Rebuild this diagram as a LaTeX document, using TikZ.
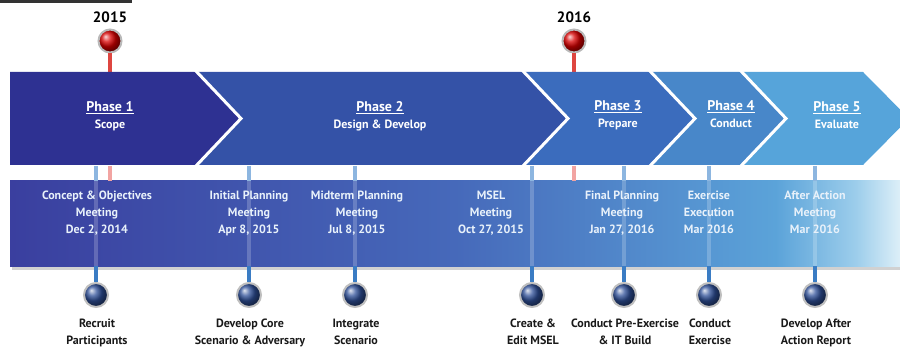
\documentclass[tikz,border=0pt]{standalone}
\usepackage{fontspec}
\setmainfont{PT Sans}
\usetikzlibrary{calc}

% phase colours (dark to light)
\definecolor{phaseA}{HTML}{2E3192}
\definecolor{phaseB}{HTML}{3452A7}
\definecolor{phaseC}{HTML}{3B6CBD}
\definecolor{phaseD}{HTML}{4887C9}
\definecolor{phaseE}{HTML}{56A4DA}
% lower milestone band
\definecolor{bandA}{HTML}{3A3F9F}
\definecolor{bandB}{HTML}{4669BA}
\definecolor{bandC}{HTML}{5BA3D9}
\definecolor{bandD}{HTML}{9CCDEB}
\definecolor{bandE}{HTML}{DDEFF8}
\definecolor{stickblue}{HTML}{3A7CC4}
\definecolor{stickpale}{HTML}{8DB6E0}
\definecolor{stickred}{HTML}{DE4640}
\definecolor{stickpink}{HTML}{F2A4A2}
\definecolor{navyball}{HTML}{2E4F98}
\definecolor{meetingtxt}{HTML}{E8F1FA}
\definecolor{topbar}{HTML}{333333}

% the band shading occupies 25bp..75bp of the declared strip
\pgfdeclarehorizontalshading{bandfade}{100bp}{%
  color(0bp)=(bandA); color(25bp)=(bandA); color(50bp)=(bandB);
  color(68bp)=(bandC); color(72.5bp)=(bandD); color(75bp)=(bandE);
  color(100bp)=(bandE)}

\begin{document}
\begin{tikzpicture}[x=1pt,y=-1pt,
  yearlbl/.style={font=\bfseries\fontsize{15}{16}\selectfont, text=black, inner sep=0pt},
  redpin/.style={circle, minimum size=23pt, inner sep=0pt, ball color=red!85!black,
                 draw=gray!55, line width=2pt},
  bluepin/.style={circle, minimum size=24pt, inner sep=0pt, ball color=navyball,
                 draw=gray!50, line width=2pt},
  phasetxt/.style={font=\bfseries\fontsize{14}{16}\selectfont, text=white,
                 align=center, inner sep=0pt, anchor=north},
  meettxt/.style={font=\bfseries\fontsize{12}{17}\selectfont, text=meetingtxt,
                 align=center, inner sep=0pt, anchor=north},
  tasktxt/.style={font=\bfseries\fontsize{12}{17}\selectfont, text=black!90,
                 align=center, inner sep=0pt, anchor=north},
  sep/.style={draw=white, line width=3pt, line join=miter},
  redstick/.style={draw=stickred, line width=4pt},
  pinkstick/.style={draw=stickpink, line width=4pt},
  palestick/.style={draw=stickpale, line width=4pt},
  inbandstick/.style={draw=white, opacity=0.2, line width=4pt},
  outstick/.style={draw=stickblue, line width=4pt},
]
\useasboundingbox (0,0) rectangle (900,350);

% small dark rule at the top left
\fill[topbar] (0,0) rectangle (132,3);

% year markers
\node[yearlbl] (yr15) at (110,17) {2015};
\node[yearlbl] (yr16) at (574,17) {2016};
\node[redpin] (pin15) at (110,41) {};
\node[redpin] (pin16) at (574,41) {};
\coordinate (bandtop15) at (110,72);
\coordinate (bandtop16) at (574,72);
\draw[redstick] (pin15.south) -- (bandtop15);
\draw[redstick] (pin16.south) -- (bandtop16);

% phase chevrons
\begin{scope}
\clip (0,0) rectangle (900,350);
\fill[phaseE] (740,72) -- (863,72) -- (909,118.5) -- (863,165) -- (740,165) -- (786,118.5) -- cycle;
\fill[phaseD] (649,72) -- (740,72) -- (786,118.5) -- (740,165) -- (649,165) -- (695,118.5) -- cycle;
\fill[phaseC] (522,72) -- (649,72) -- (695,118.5) -- (649,165) -- (522,165) -- (568,118.5) -- cycle;
\fill[phaseB] (195,72) -- (522,72) -- (568,118.5) -- (522,165) -- (195,165) -- (241,118.5) -- cycle;
\fill[phaseA] (10,72) -- (195,72) -- (241,118.5) -- (195,165) -- (10,165) -- cycle;
\draw[sep] (195,70) -- (241,118.5) -- (195,167);
\draw[sep] (522,70) -- (568,118.5) -- (522,167);
\draw[sep] (649,70) -- (695,118.5) -- (649,167);
\draw[sep] (740,70) -- (786,118.5) -- (740,167);
\end{scope}

\node[phasetxt] (ph1) at (110,101) {\underline{Phase 1}\\[1pt]\fontsize{12}{14}\selectfont Scope};
\node[phasetxt] (ph2) at (380,101) {\underline{Phase 2}\\[1pt]\fontsize{12}{14}\selectfont Design \& Develop};
\node[phasetxt] (ph3) at (618,100) {\underline{Phase 3}\\[1pt]\fontsize{12}{14}\selectfont Prepare};
\node[phasetxt] (ph4) at (731,100) {\underline{Phase 4}\\[1pt]\fontsize{12}{14}\selectfont Conduct};
\node[phasetxt] (ph5) at (837,101) {\underline{Phase 5}\\[1pt]\fontsize{12}{14}\selectfont Evaluate};

% lower milestone band with its shadow
\fill[black, opacity=0.18] (12,265) rectangle (900,270);
\shade[shading=bandfade] (10,181) rectangle (900,266);

% year ticks seen in the gap between the bands
\coordinate (gap15) at (110,166);
\coordinate (gap16) at (574,166);
\draw[pinkstick] (gap15) -- ($(gap15)+(0,15)$);
\draw[pinkstick] (gap16) -- ($(gap16)+(0,15)$);

% milestone sticks, pins and task labels
\foreach \x/\id/\tk in {
   96/a/{Recruit\\Participants},
  249/b/{Develop Core\\Scenario \& Adversary},
  355/c/{Integrate\\Scenario},
  532/d/{Create \&\\Edit MSEL},
  624/e/{Conduct Pre-Exercise\\\& IT Build},
  709/f/{Conduct\\Exercise},
  815/g/{Develop After\\Action Report}}{
  \coordinate (top\id) at (\x,166);
  \coordinate (in\id) at (\x,181);
  \coordinate (out\id) at (\x,266);
  \node[bluepin] (pin\id) at (\x,295) {};
  \draw[palestick] (top\id) -- (in\id);
  \draw[inbandstick] (in\id) -- (out\id);
  \draw[outstick] (out\id) -- (pin\id.north);
  \node[tasktxt] (task\id) at (\x+1,319) {\tk};
}

% meeting labels inside the band
\node[meettxt] (meeta) at (97,191)  {Concept \& Objectives\\Meeting\\Dec 2, 2014};
\node[meettxt] (meetb) at (249,191) {Initial Planning\\Meeting\\Apr 8, 2015};
\node[meettxt] (meetc) at (357,191) {Midterm Planning\\Meeting\\Jul 8, 2015};
\node[meettxt] (meetd) at (491,191) {MSEL\\Meeting\\Oct 27, 2015};
\node[meettxt] (meete) at (622,191) {Final Planning\\Meeting\\Jan 27, 2016};
\node[meettxt] (meetf) at (709,191) {Exercise\\Execution\\Mar 2016};
\node[meettxt] (meetg) at (815,191) {After Action\\Meeting\\Mar 2016};
\end{tikzpicture}
\end{document}
